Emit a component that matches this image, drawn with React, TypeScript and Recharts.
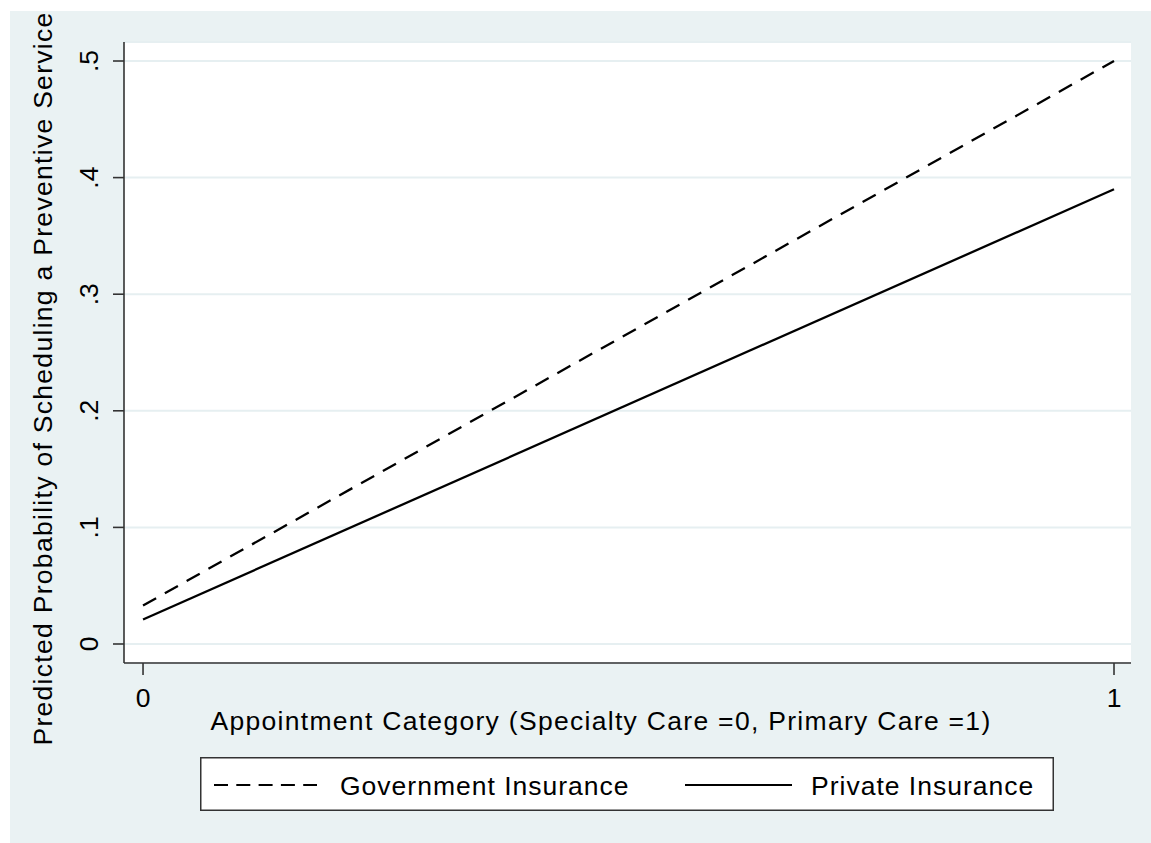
import React from "react";
import { LineChart, Line, XAxis, YAxis, CartesianGrid, Legend } from "recharts";

// Predicted probabilities from the model, by appointment category
const categories = [0, 1];
const governmentInsurance = [0.033, 0.5];
const privateInsurance = [0.021, 0.39];

const seriesNames = ["Government Insurance", "Private Insurance"];

const xTicks = [0, 1];
const xTickLabels = ["0", "1"];
const yTicks = [0, 0.1, 0.2, 0.3, 0.4, 0.5];
const yTickLabels = ["0", ".1", ".2", ".3", ".4", ".5"];

const xTitle = "Appointment Category (Specialty Care =0, Primary Care =1)";
const yTitle = "Predicted Probability of Scheduling a Preventive Service";

const data = categories.map((c, i) => ({
  category: c,
  government: governmentInsurance[i],
  private: privateInsurance[i],
}));

const FONT = "'Liberation Sans', Arial, Helvetica, sans-serif";
const FONT_SIZE = 26.5;
const AXIS_COLOR = "#333";
const GRID_COLOR = "#e6eff1";
const BG_COLOR = "#eaf2f3";

const YTick = (props: any) => {
  const { x, y, payload } = props;
  const label = yTickLabels[yTicks.indexOf(payload.value)] ?? String(payload.value);
  return (
    <text
      x={x}
      y={y}
      transform={`rotate(-90 ${x} ${y})`}
      textAnchor="middle"
      fontFamily={FONT}
      fontSize={FONT_SIZE}
      fill="#000"
    >
      {label}
    </text>
  );
};

const XTick = (props: any) => {
  const { x, y, payload } = props;
  const label = xTickLabels[xTicks.indexOf(payload.value)] ?? String(payload.value);
  return (
    <text x={x} y={y} dy="0.71em" textAnchor="middle" fontFamily={FONT} fontSize={FONT_SIZE} fill="#000">
      {label}
    </text>
  );
};

const renderYTitle = (props: any) => {
  const vb = props.viewBox || { x: 0, y: 0, width: 0, height: 0 };
  const x = vb.x + 42;
  const y = vb.y + vb.height / 2 + 26;
  return (
    <text
      x={x}
      y={y}
      transform={`rotate(-90 ${x} ${y})`}
      textAnchor="middle"
      fontFamily={FONT}
      fontSize={FONT_SIZE}
      letterSpacing={1.3}
      fill="#000"
    >
      {yTitle}
    </text>
  );
};

const renderXTitle = (props: any) => {
  const vb = props.viewBox || { x: 0, y: 0, width: 0, height: 0 };
  const x = vb.x + vb.width / 2 - 26.5;
  const y = vb.y + 67;
  return (
    <text x={x} y={y} textAnchor="middle" fontFamily={FONT} fontSize={FONT_SIZE} letterSpacing={1.3} fill="#000">
      {xTitle}
    </text>
  );
};

const LegendBox = () => (
  <svg width={854} height={54} style={{ display: "block" }}>
    <rect x={0.75} y={0.75} width={852.5} height={52.5} fill="#fff" stroke={AXIS_COLOR} strokeWidth={1.5} />
    <line x1={14} x2={117} y1={28} y2={28} stroke="#000" strokeWidth={2.2} strokeDasharray="14 8.3" />
    <text x={140} y={38} fontFamily={FONT} fontSize={FONT_SIZE} letterSpacing={1} fill="#000">
      {seriesNames[0]}
    </text>
    <line x1={485} x2={592} y1={28} y2={28} stroke="#000" strokeWidth={2.2} />
    <text x={611} y={38} fontFamily={FONT} fontSize={FONT_SIZE} letterSpacing={1} fill="#000">
      {seriesNames[1]}
    </text>
  </svg>
);

export default function App() {
  return (
    <div
      style={{
        position: "absolute",
        left: 10,
        top: 11,
        width: 1141,
        height: 832,
        background: BG_COLOR,
      }}
    >
      <LineChart width={1141} height={832} data={data} margin={{ top: 31, right: 20, bottom: 0, left: 0 }}>
        <CartesianGrid vertical={false} fill="#fff" fillOpacity={1} stroke={GRID_COLOR} strokeWidth={2} />
        <XAxis
          dataKey="category"
          type="number"
          domain={[-0.0196, 1.0175]}
          allowDataOverflow
          ticks={xTicks}
          interval={0}
          height={180}
          tickSize={12}
          tickMargin={13}
          axisLine={{ stroke: AXIS_COLOR, strokeWidth: 1.6 }}
          tickLine={{ stroke: AXIS_COLOR, strokeWidth: 1.6 }}
          tick={<XTick />}
          label={renderXTitle}
        />
        <YAxis
          type="number"
          domain={[-0.0163, 0.5163]}
          allowDataOverflow
          ticks={yTicks}
          interval={0}
          width={114}
          tickSize={11}
          tickMargin={15}
          axisLine={{ stroke: AXIS_COLOR, strokeWidth: 1.6 }}
          tickLine={{ stroke: AXIS_COLOR, strokeWidth: 1.6 }}
          tick={<YTick />}
          label={renderYTitle}
        />
        <Legend
          layout="horizontal"
          align="center"
          verticalAlign="middle"
          width={854}
          height={54}
          wrapperStyle={{ left: 190, top: 746, width: 854, height: 54 }}
          content={() => <LegendBox />}
        />
        <Line
          type="linear"
          dataKey="government"
          name={seriesNames[0]}
          stroke="#000"
          strokeWidth={2.3}
          strokeDasharray="15 10"
          dot={false}
          activeDot={false}
          isAnimationActive={false}
        />
        <Line
          type="linear"
          dataKey="private"
          name={seriesNames[1]}
          stroke="#000"
          strokeWidth={2.3}
          dot={false}
          activeDot={false}
          isAnimationActive={false}
        />
      </LineChart>
    </div>
  );
}
